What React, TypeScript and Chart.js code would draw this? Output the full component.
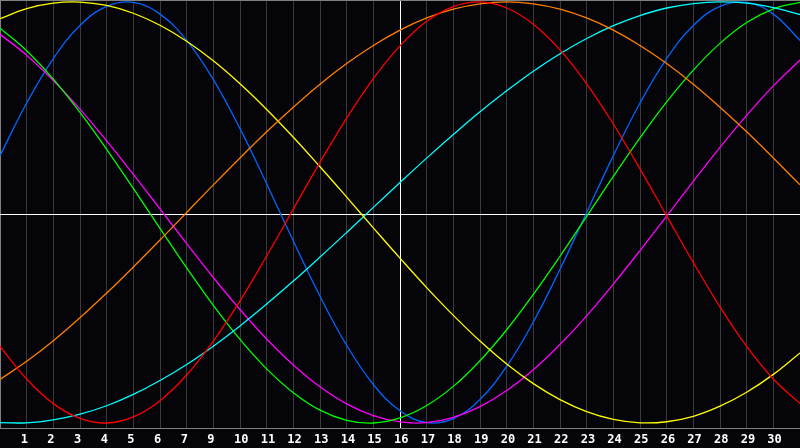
import React, { useEffect, useRef } from 'react';
import { Chart, registerables } from 'chart.js';

Chart.register(...registerables);

const dayLabels = ['', '1', '2', '3', '4', '5', '6', '7', '9', '10', '11', '12', '13', '14', '15', '16', '17', '18', '19', '20', '21', '22', '23', '24', '25', '26', '27', '28', '29', '30', ''];

const physical23 = [0.270, 0.520, 0.731, 0.888, 0.979, 0.998, 0.942, 0.817, 0.631, 0.398, 0.136, -0.136, -0.398, -0.631, -0.817, -0.942, -0.998, -0.979, -0.888, -0.731, -0.520, -0.270, 0.000, 0.270, 0.520, 0.731, 0.888, 0.979, 0.998, 0.942, 0.817];
const emotional28 = [-0.636, -0.791, -0.908, -0.978, -1.000, -0.971, -0.894, -0.772, -0.611, -0.420, -0.207, 0.016, 0.238, 0.448, 0.636, 0.791, 0.908, 0.978, 1.000, 0.971, 0.894, 0.772, 0.611, 0.420, 0.207, -0.016, -0.238, -0.448, -0.636, -0.791, -0.908];
const intellectual33 = [0.875, 0.768, 0.633, 0.475, 0.300, 0.114, -0.076, -0.263, -0.441, -0.603, -0.743, -0.856, -0.939, -0.987, -1.000, -0.976, -0.917, -0.826, -0.704, -0.557, -0.389, -0.208, -0.019, 0.171, 0.354, 0.525, 0.676, 0.803, 0.902, 0.967, 0.998];
const intuitive38 = [0.846, 0.747, 0.627, 0.491, 0.340, 0.181, 0.017, -0.148, -0.309, -0.461, -0.601, -0.724, -0.828, -0.909, -0.965, -0.995, -0.998, -0.973, -0.922, -0.846, -0.747, -0.627, -0.491, -0.340, -0.181, -0.017, 0.148, 0.309, 0.461, 0.601, 0.724];
const aesthetic43 = [0.920, 0.968, 0.994, 0.999, 0.983, 0.946, 0.889, 0.813, 0.720, 0.611, 0.489, 0.357, 0.217, 0.073, -0.073, -0.217, -0.357, -0.489, -0.611, -0.720, -0.813, -0.889, -0.946, -0.983, -0.999, -0.994, -0.968, -0.920, -0.854, -0.769, -0.667];
const awareness48 = [-0.793, -0.707, -0.609, -0.500, -0.383, -0.259, -0.131, 0.000, 0.131, 0.259, 0.383, 0.500, 0.609, 0.707, 0.793, 0.866, 0.924, 0.966, 0.991, 1.000, 0.991, 0.966, 0.924, 0.866, 0.793, 0.707, 0.609, 0.500, 0.383, 0.259, 0.131];
const spiritual53 = [-0.998, -0.999, -0.985, -0.958, -0.918, -0.864, -0.798, -0.722, -0.635, -0.539, -0.435, -0.326, -0.212, -0.095, 0.024, 0.142, 0.258, 0.370, 0.478, 0.578, 0.671, 0.754, 0.826, 0.887, 0.935, 0.971, 0.992, 1.000, 0.994, 0.973, 0.940];

const todayIndex = 15;
const midlineValue = -0.008;
const yMin = -1.0237;
const yMax = 1.009;

const BG = '#050409';
const GRID = '#3a3a3a';
const BORDER = '#808080';

const framePlugin = {
  id: 'frame',
  beforeDraw(chart: any) {
    const { ctx, width, height } = chart;
    ctx.save();
    ctx.fillStyle = BG;
    ctx.fillRect(0, 0, width, height);
    ctx.restore();
  },
  beforeDatasetsDraw(chart: any) {
    const { ctx, chartArea, scales } = chart;
    ctx.save();
    ctx.fillStyle = BORDER;
    ctx.fillRect(chartArea.left, chartArea.top, chartArea.right - chartArea.left, 1);
    const y = Math.round(scales.y.getPixelForValue(midlineValue)) + 0.5;
    ctx.strokeStyle = '#ffffff';
    ctx.lineWidth = 1;
    ctx.beginPath();
    ctx.moveTo(chartArea.left, y);
    ctx.lineTo(chartArea.right, y);
    ctx.stroke();
    ctx.restore();
  },
};

const series = [
  { data: emotional28, color: '#ff0000' },
  { data: awareness48, color: '#ff8000' },
  { data: aesthetic43, color: '#ffff00' },
  { data: spiritual53, color: '#00ffff' },
  { data: intellectual33, color: '#00ff00' },
  { data: intuitive38, color: '#ff00ff' },
  { data: physical23, color: '#0066ff' },
];

export default function App() {
  const ref = useRef<HTMLCanvasElement>(null);
  useEffect(() => {
    document.body.style.margin = '0';
    document.body.style.background = BG;
    const chart = new Chart(ref.current as HTMLCanvasElement, {
      type: 'line',
      data: {
        labels: dayLabels,
        datasets: series.map((s) => ({
          data: s.data,
          borderColor: s.color,
          backgroundColor: s.color,
          borderWidth: 1.3,
          pointRadius: 0,
          tension: 0.4,
          fill: false,
        })),
      },
      options: {
        animation: false,
        responsive: false,
        devicePixelRatio: 1,
        layout: { padding: 0 },
        plugins: { legend: { display: false }, tooltip: { enabled: false } },
        scales: {
          x: {
            type: 'category',
            offset: false,
            afterFit: (scale: any) => {
              scale.height = 20;
            },
            grid: {
              color: (ctx: any) => (ctx.index === 0 ? BORDER : ctx.index === todayIndex ? '#ffffff' : GRID),
              lineWidth: 1,
              drawTicks: false,
            },
            border: { color: BORDER, width: 1 },
            ticks: {
              color: '#ffffff',
              font: { family: 'DejaVu Sans Mono', size: 12, weight: 'bold', lineHeight: '23px' },
              align: 'start',
              labelOffset: -6,
              padding: 0,
              autoSkip: false,
              maxRotation: 0,
              minRotation: 0,
            },
          },
          y: { display: false, min: yMin, max: yMax },
        },
      },
      plugins: [framePlugin],
    } as any);
    return () => chart.destroy();
  }, []);
  return <canvas ref={ref} width={800} height={448} style={{ display: 'block' }} />;
}
